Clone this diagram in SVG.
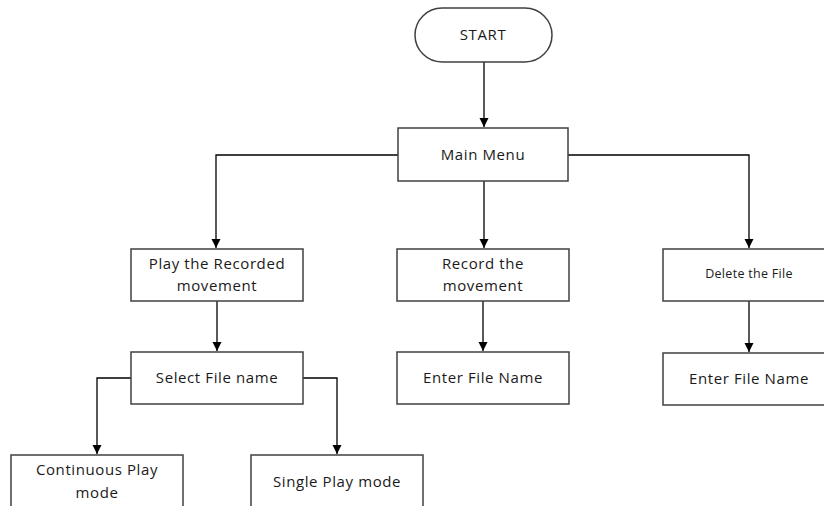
<svg xmlns="http://www.w3.org/2000/svg" width="824" height="506" viewBox="0 0 824 506">
<defs>
<marker id="arr" markerWidth="10" markerHeight="10" refX="9" refY="5" orient="auto" markerUnits="userSpaceOnUse">
<path d="M0,0.5 L9,5 L0,9.5 Z" fill="#000"/>
</marker>
<style>
.box{fill:#fff;stroke:#404040;stroke-width:1.5}
.t{font-family:"Open Sans","Liberation Sans",sans-serif;font-size:15px;letter-spacing:0.6px;fill:#1a1a1a;text-anchor:middle;dominant-baseline:central}
.s{font-size:12.5px;letter-spacing:0.3px}
.c{fill:none;stroke:#000;stroke-width:1.3}
</style>
</defs>
<rect width="824" height="506" fill="#fff"/>
<g id="connectors">
<path class="c" d="M484,62 V127" marker-end="url(#arr)"/>
<path class="c" d="M398,155 H216 V248" marker-end="url(#arr)"/>
<path class="c" d="M484,181 V248" marker-end="url(#arr)"/>
<path class="c" d="M568,155 H749 V248" marker-end="url(#arr)"/>
<path class="c" d="M217,301 V351" marker-end="url(#arr)"/>
<path class="c" d="M483,301 V351" marker-end="url(#arr)"/>
<path class="c" d="M749,301 V352" marker-end="url(#arr)"/>
<path class="c" d="M131,378 H97 V454" marker-end="url(#arr)"/>
<path class="c" d="M303,378 H337 V454" marker-end="url(#arr)"/>
</g>
<g id="start">
<rect class="box" x="415" y="8" width="137" height="54" rx="27"/>
<text class="t" x="483" y="34">START</text>
</g>
<g id="main-menu">
<rect class="box" x="398" y="128" width="170" height="53"/>
<text class="t" x="483" y="154">Main Menu</text>
</g>
<g id="play">
<rect class="box" x="131" y="249" width="172" height="52"/>
<text class="t" x="217" y="263">Play the Recorded</text>
<text class="t" x="217" y="285">movement</text>
</g>
<g id="record">
<rect class="box" x="397" y="249" width="172" height="52"/>
<text class="t" x="483" y="263">Record the</text>
<text class="t" x="483" y="285">movement</text>
</g>
<g id="delete">
<rect class="box" x="663" y="249" width="172" height="52"/>
<text class="t s" x="749" y="273">Delete the File</text>
</g>
<g id="select">
<rect class="box" x="131" y="352" width="172" height="52"/>
<text class="t" x="217" y="377">Select File name</text>
</g>
<g id="enter-record">
<rect class="box" x="397" y="352" width="172" height="52"/>
<text class="t" x="483" y="377">Enter File Name</text>
</g>
<g id="enter-delete">
<rect class="box" x="663" y="353" width="172" height="52"/>
<text class="t" x="749" y="378">Enter File Name</text>
</g>
<g id="continuous">
<rect class="box" x="11" y="455" width="172" height="60"/>
<text class="t" x="97" y="469">Continuous Play</text>
<text class="t" x="97" y="492">mode</text>
</g>
<g id="single">
<rect class="box" x="251" y="455" width="172" height="60"/>
<text class="t" x="337" y="481">Single Play mode</text>
</g>
</svg>
